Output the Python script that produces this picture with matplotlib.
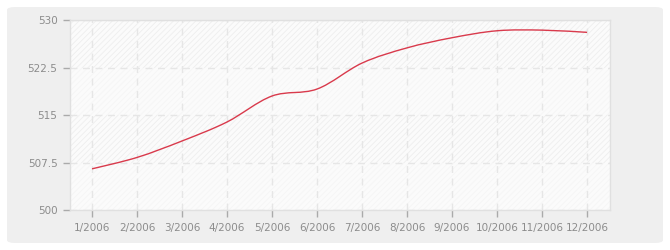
import numpy as np
import matplotlib
matplotlib.use("Agg")
import matplotlib.pyplot as plt
from matplotlib.patches import FancyBboxPatch, PathPatch
from matplotlib.path import Path

months = ["1/2006", "2/2006", "3/2006", "4/2006", "5/2006", "6/2006",
          "7/2006", "8/2006", "9/2006", "10/2006", "11/2006", "12/2006"]
values = [506.5, 508.3, 510.9, 513.9, 518.0, 519.1,
          523.2, 525.6, 527.2, 528.3, 528.4, 528.05]
y_ticks = [500, 507.5, 515, 522.5, 530]
y_labels = ["500", "507.5", "515", "522.5", "530"]

plt.rcParams["hatch.linewidth"] = 0.6

fig = plt.figure(figsize=(6.7, 2.5), dpi=100)
fig.patch.set_facecolor("white")
bg = FancyBboxPatch((7 / 670, 7 / 250), 656 / 670, 236 / 250,
                    boxstyle="round,pad=0,rounding_size=0.012",
                    transform=fig.transFigure, facecolor="#efefef",
                    edgecolor="none", zorder=-10)
fig.patches.append(bg)

ax = fig.add_axes([70 / 670, 40 / 250, 540 / 670, 190 / 250])
ax.set_zorder(5)
ax.set_facecolor("#fbfbfb")
ax.set_xlim(-0.49, 11.51)
ax.set_ylim(500, 530)

# striped bands
for lo, hi, col in [(500, 507.5, "#f5f5f5"), (507.5, 515, "#eeeeee"),
                    (515, 522.5, "#f5f5f5"), (522.5, 530, "#eeeeee")]:
    ax.axhspan(lo, hi, facecolor="none", edgecolor=col, hatch="//////",
               linewidth=0, zorder=0)

ax.grid(True, color="#e6e6e6", linestyle=(0, (5, 4)), linewidth=1, zorder=1)

# smooth curve through the points (Catmull-Rom as cubic Bezier)
x = np.arange(len(values), dtype=float)
y = np.array(values)
verts = [(x[0], y[0])]
codes = [Path.MOVETO]
n = len(x)
for i in range(n - 1):
    p0 = (x[max(i - 1, 0)], y[max(i - 1, 0)])
    p1 = (x[i], y[i])
    p2 = (x[i + 1], y[i + 1])
    p3 = (x[min(i + 2, n - 1)], y[min(i + 2, n - 1)])
    c1 = (p1[0] + (p2[0] - p0[0]) / 6, p1[1] + (p2[1] - p0[1]) / 6)
    c2 = (p2[0] - (p3[0] - p1[0]) / 6, p2[1] - (p3[1] - p1[1]) / 6)
    verts += [c1, c2, p2]
    codes += [Path.CURVE4] * 3
ax.add_patch(PathPatch(Path(verts, codes), facecolor="none",
                       edgecolor="#d93a4c", linewidth=1.0, zorder=3))

ax.set_xticks(range(len(months)))
ax.set_xticklabels(months)
ax.set_yticks(y_ticks)
ax.set_yticklabels(y_labels)
ax.tick_params(axis="both", colors="#aaaaaa", labelcolor="#8c8c8c",
               labelsize=7.5, length=5, width=1, pad=4)

for s in ax.spines.values():
    s.set_color("#e0e0e0")
    s.set_linewidth(1)

fig.savefig("out.png", dpi=100, facecolor="white")
